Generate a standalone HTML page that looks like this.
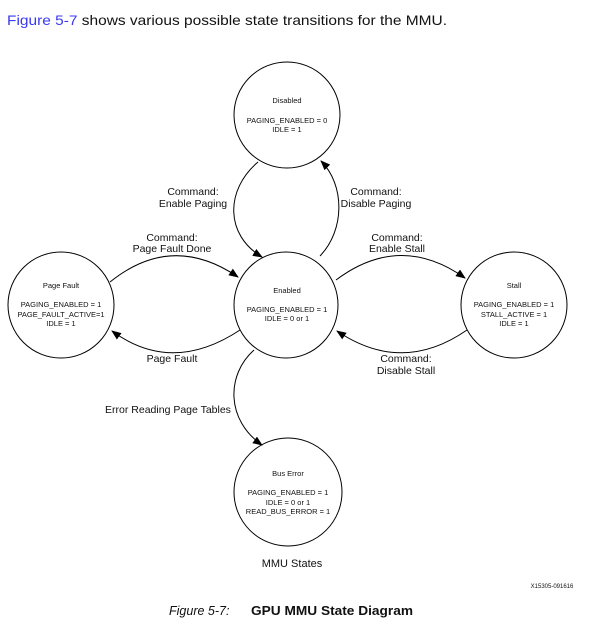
<!DOCTYPE html>
<html><head><meta charset="utf-8"><style>
html,body{margin:0;padding:0;background:#fff;}
svg{display:block;}
text{font-family:"Liberation Sans",Arial,sans-serif;fill:#111;}
</style></head><body>
<svg width="604" height="638" viewBox="0 0 604 638" xmlns="http://www.w3.org/2000/svg">
<defs>
<marker id="ah" markerWidth="10" markerHeight="8" refX="9" refY="4" orient="auto" markerUnits="userSpaceOnUse">
<path d="M0,0 L10,4 L0,8 z" fill="#000"/>
</marker>
</defs>
<text x="7" y="25" font-size="14" textLength="440" lengthAdjust="spacingAndGlyphs"><tspan fill="#3a3af0" style="fill:#3a3af0">Figure 5-7</tspan> shows various possible state transitions for the MMU.</text>

<g fill="none" stroke="#000" stroke-width="1">
<ellipse cx="287" cy="115" rx="53" ry="53"/>
<ellipse cx="286" cy="305" rx="52" ry="53"/>
<ellipse cx="61" cy="305" rx="53" ry="53"/>
<ellipse cx="514" cy="305" rx="53" ry="53"/>
<ellipse cx="288" cy="492" rx="54" ry="54"/>
<path d="M258,162 C225,190 225,235 262,257" marker-end="url(#ah)"/>
<path d="M320,256 C345,230 345,185 321,161" marker-end="url(#ah)"/>
<path d="M110,282 Q172,232 238,277" marker-end="url(#ah)"/>
<path d="M240,330 Q172,375 112,331" marker-end="url(#ah)"/>
<path d="M336,280 Q400,232 465,278" marker-end="url(#ah)"/>
<path d="M467,330 Q402,375 337,331" marker-end="url(#ah)"/>
<path d="M254,350 C226,375 226,420 262,445" marker-end="url(#ah)"/>
</g>

<g font-size="7.5" text-anchor="middle">
<text x="287" y="103">Disabled</text>
<text x="287" y="123">PAGING_ENABLED = 0</text>
<text x="287" y="132">IDLE = 1</text>
<text x="287" y="293">Enabled</text>
<text x="287" y="312">PAGING_ENABLED = 1</text>
<text x="287" y="321">IDLE = 0 or 1</text>
<text x="61" y="288">Page Fault</text>
<text x="61" y="307">PAGING_ENABLED = 1</text>
<text x="61" y="317">PAGE_FAULT_ACTIVE=1</text>
<text x="61" y="326">IDLE = 1</text>
<text x="514" y="288">Stall</text>
<text x="514" y="307">PAGING_ENABLED = 1</text>
<text x="514" y="317">STALL_ACTIVE = 1</text>
<text x="514" y="326">IDLE = 1</text>
<text x="288" y="476">Bus Error</text>
<text x="288" y="495">PAGING_ENABLED = 1</text>
<text x="288" y="505">IDLE = 0 or 1</text>
<text x="288" y="514">READ_BUS_ERROR = 1</text>
</g>

<g font-size="10.5" text-anchor="middle">
<text x="193" y="195">Command:</text>
<text x="193" y="207">Enable Paging</text>
<text x="376" y="195">Command:</text>
<text x="376" y="207">Disable Paging</text>
<text x="172" y="241">Command:</text>
<text x="172" y="252">Page Fault Done</text>
<text x="397" y="241">Command:</text>
<text x="397" y="252">Enable Stall</text>
<text x="172" y="362">Page Fault</text>
<text x="406" y="362">Command:</text>
<text x="406" y="374">Disable Stall</text>
<text x="168" y="413">Error Reading Page Tables</text>
<text x="292" y="567" font-size="11">MMU States</text>
</g>
<text x="552" y="588" font-size="6" text-anchor="middle">X15305-091616</text>
<text x="169" y="615" font-size="12.5" font-style="italic">Figure 5-7:</text>
<text x="251" y="615" font-size="12.5" font-weight="bold" textLength="162" lengthAdjust="spacingAndGlyphs">GPU MMU State Diagram</text>
</svg>
</body></html>
